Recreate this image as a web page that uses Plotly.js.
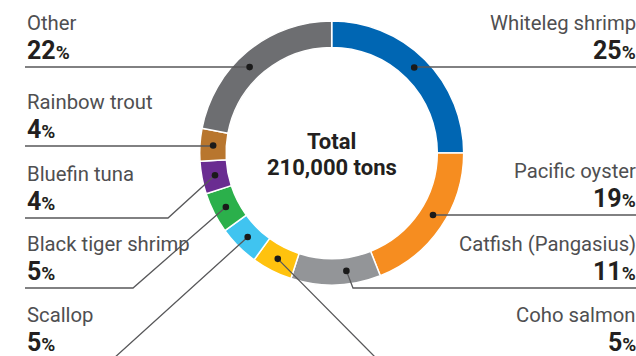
<!DOCTYPE html>
<html><head><meta charset="utf-8">
<script src="https://cdn.plot.ly/plotly-3.0.1.min.js"></script>
<style>html,body{margin:0;padding:0;background:#fff}#chart{width:636px;height:356px}</style>
</head><body><div id="chart"></div>
<script>
// ---- data ----
const species = ['Whiteleg shrimp','Pacific oyster','Catfish (Pangasius)','Coho salmon','Scallop','Black tiger shrimp','Bluefin tuna','Rainbow trout','Other'];
const shares = [25,19,11,5,5,5,4,4,22];
const sliceColors = ['#0066b3','#f68d20','#939598','#ffc20e','#40c4f0','#2bb04b','#6a2c91','#b8762e','#6d6e71'];
const totalLabel = ['Total','210,000 tons'];

// ---- layout helpers (px) ----
const W = 636, H = 356;
const CX = 331.7, CY = 153, R = 132, HOLE = 0.8;
const NAME_SIZE = 20.3, PCT_SIZE = 25;
// per label: side, y of the underline, elbow point (or null), small shift of the dot along the ring (deg)
const labelSide  = ['right','right','right','right','left','left','left','left','left'];
const lineY      = [67, 215, 288, 359, 359, 288, 218, 146, 67];
const elbowX     = [null, null, 353, 377, 113, 133, 168, null, null];
const dotShift   = [-1, -2.7, -5.3, 0, 0, 0, 0, 0, -4.1];

const px = x => x / W;
const py = y => 1 - y / H;

const total = shares.reduce((a,b)=>a+b,0);
const rMid = (R + R*HOLE) / 2;
const shapes = [], annotations = [];
let cum = 0;
shares.forEach((v,i) => {
  const mid = (cum + v/2) / total * 360 + dotShift[i];
  cum += v;
  const a = mid * Math.PI / 180;
  const dx = CX + rMid * Math.sin(a);
  const dy = CY - rMid * Math.cos(a);
  const ly = lineY[i];
  let path = `M ${px(dx)} ${py(dy)}`;
  if (elbowX[i] !== null) path += ` L ${px(elbowX[i])} ${py(ly)}`;
  else path += ` L ${px(dx)} ${py(ly)}`;
  const endX = labelSide[i] === 'left' ? 25 : 640;
  path += ` L ${px(endX)} ${py(ly)}`;
  shapes.push({type:'path', xref:'paper', yref:'paper', path, line:{color:'#58585a', width:1.3}});
  shapes.push({type:'circle', xref:'paper', yref:'paper', x0:px(dx-3.3), x1:px(dx+3.3), y0:py(dy+3.3), y1:py(dy-3.3), fillcolor:'#1a1a1a', line:{width:0}});
  const left = labelSide[i] === 'left';
  const tx = left ? px(24.5) : px(638);
  const nameBase = ly - 36, pctBase = ly - 7.5;
  annotations.push({xref:'paper', yref:'paper', x:tx, xanchor: left?'left':'right', y:py(nameBase + NAME_SIZE*0.244 + 1), yanchor:'bottom', showarrow:false,
    text: species[i], font:{family:'Roboto', size:NAME_SIZE, color:'#4f4f51'}});
  annotations.push({xref:'paper', yref:'paper', x:tx, xanchor: left?'left':'right', y:py(pctBase + PCT_SIZE*0.244 + 1), yanchor:'bottom', showarrow:false,
    text: `<b>${shares[i]}</b><span style="font-size:19px"><b>%</b></span>`, font:{family:'Roboto', size:PCT_SIZE, color:'#231f20'}});
});
const CT = 22;
annotations.push({xref:'paper', yref:'paper', x:px(CX), y:py(150 + CT*0.244 + 1), xanchor:'center', yanchor:'bottom', showarrow:false,
  text:`<b>${totalLabel[0]}</b>`, font:{family:'Roboto', size:CT, color:'#231f20'}});
annotations.push({xref:'paper', yref:'paper', x:px(CX), y:py(175.7 + CT*0.244 + 1), xanchor:'center', yanchor:'bottom', showarrow:false,
  text:`<b>${totalLabel[1]}</b>`, font:{family:'Roboto', size:CT, color:'#231f20'}});

const trace = {
  type:'pie', labels: species, values: shares, sort:false, direction:'clockwise', rotation:0,
  hole: HOLE, textinfo:'none', hoverinfo:'none',
  marker:{colors: sliceColors, line:{color:'#ffffff', width:1.5}},
  domain:{x:[px(CX-R), px(CX+R)], y:[py(CY+R), py(CY-R)]}
};
Plotly.newPlot('chart', [trace], {
  width:W, height:H, margin:{l:0,r:0,t:0,b:0}, showlegend:false,
  paper_bgcolor:'#fff', plot_bgcolor:'#fff', shapes, annotations
}, {staticPlot:true});
</script></body></html>
